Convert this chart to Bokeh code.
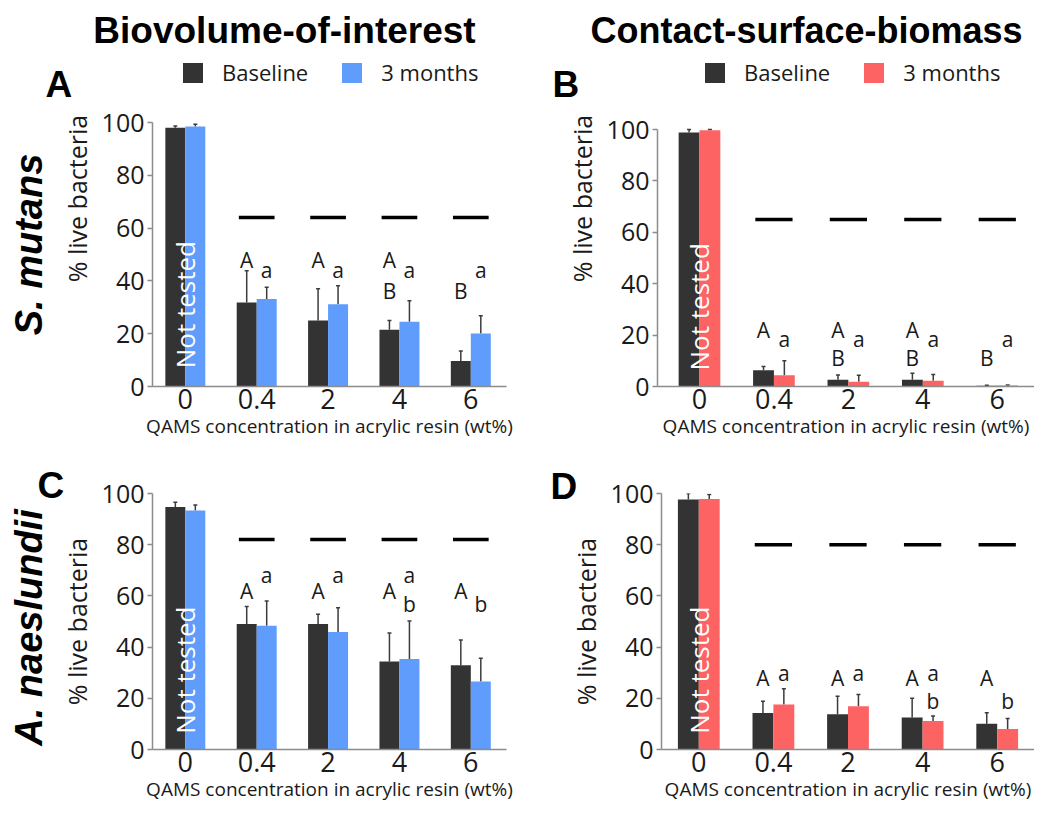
import numpy as np
from bokeh.plotting import figure
from bokeh.models import (Range1d, FixedTicker, Legend, LegendItem, Whisker,
                          ColumnDataSource, TeeHead)
from bokeh.layouts import column, row
from bokeh.embed import file_html
from bokeh.resources import INLINE
from bokeh.core.properties import value

# ---------------- data ----------------
categories = ["0", "0.4", "2", "4", "6"]
series_names = ["Baseline", "3 months"]

# A: S. mutans, biovolume-of-interest
sm_bio_base = [98.0, 31.8, 25.0, 21.5, 9.7]
sm_bio_base_err = [0.7, 12.0, 12.0, 3.5, 3.7]
sm_bio_3m = [98.5, 33.1, 31.2, 24.5, 20.1]
sm_bio_3m_err = [0.8, 4.5, 7.0, 8.0, 6.7]
sm_bio_sig = 64
sm_bio_letters = ["A", "a", "A", "a", "A", "B", "a", "B", "a"]
sm_bio_letter_cat = ["0.4", "0.4", "2", "2", "4", "4", "4", "6", "6"]
sm_bio_letter_series = [0, 1, 0, 1, 0, 0, 1, 0, 1]
sm_bio_letter_y = [48, 44, 48, 44, 48, 36, 44, 36, 44]

# B: S. mutans, contact-surface-biomass
sm_con_base = [98.8, 6.3, 2.6, 2.6, 0.3]
sm_con_base_err = [1.2, 1.5, 1.9, 2.6, 0.2]
sm_con_3m = [99.7, 4.4, 1.8, 2.2, 0.4]
sm_con_3m_err = [0.3, 5.6, 2.6, 2.5, 0.2]
sm_con_sig = 65
sm_con_letters = ["A", "a", "A", "B", "a", "A", "B", "a", "B", "a"]
sm_con_letter_cat = ["0.4", "0.4", "2", "2", "2", "4", "4", "4", "6", "6"]
sm_con_letter_series = [0, 1, 0, 0, 1, 0, 0, 1, 0, 1]
sm_con_letter_y = [22, 18.5, 22, 11, 18.5, 22, 11, 18.5, 11, 18.5]

# C: A. naeslundii, biovolume-of-interest
an_bio_base = [94.7, 49.0, 49.0, 34.4, 32.9]
an_bio_base_err = [1.9, 6.9, 3.8, 11.1, 9.9]
an_bio_3m = [93.4, 48.3, 45.9, 35.4, 26.6]
an_bio_3m_err = [2.1, 9.7, 9.5, 14.8, 9.0]
an_bio_sig = 82
an_bio_letters = ["A", "a", "A", "a", "A", "a", "b", "A", "b"]
an_bio_letter_cat = ["0.4", "0.4", "2", "2", "4", "4", "4", "6", "6"]
an_bio_letter_series = [0, 1, 0, 1, 0, 1, 1, 0, 1]
an_bio_letter_y = [62, 68, 62, 68, 62, 68, 57, 62, 57]

# D: A. naeslundii, contact-surface-biomass
an_con_base = [97.7, 14.3, 13.8, 12.5, 10.1]
an_con_base_err = [2.3, 4.5, 7.0, 7.5, 4.3]
an_con_3m = [97.9, 17.6, 16.9, 11.1, 8.0]
an_con_3m_err = [1.7, 6.1, 4.6, 2.0, 4.1]
an_con_sig = 80
an_con_letters = ["A", "a", "A", "a", "A", "a", "b", "A", "b"]
an_con_letter_cat = ["0.4", "0.4", "2", "2", "4", "4", "4", "6", "6"]
an_con_letter_series = [0, 1, 0, 1, 0, 1, 1, 0, 1]
an_con_letter_y = [28, 30, 28, 30, 28, 30, 19, 28, 19]

y_ticks = [0, 20, 40, 60, 80, 100]

# ---------------- style ----------------
BAR_W = 0.28
DARK = "#333333"
BLUE = "#5f9cfb"
RED = "#fd6363"
AXIS = "#8c8c8c"
TXT = "#1a1a1a"
FONT = "Open Sans"
HFONT = "Liberation Sans"

# panel geometry (pixels): width, height, borders, x start, pixel height of 0..100
GA = dict(w=540, h=452, left=152, right=34, top=10, bottom=66, xstart=-0.46, y100=264)
GB = dict(w=494, h=452, left=117, right=0, top=10, bottom=66, xstart=-0.564, y100=257)
GC = dict(w=540, h=363, left=152, right=34, top=41, bottom=66, xstart=-0.46, y100=256)
GD = dict(w=494, h=363, left=121, right=0, top=40, bottom=66, xstart=-0.5, y100=257)


def to_data(g, cx, cy):
    fw = g["w"] - g["left"] - g["right"]
    ppx = fw / (len(categories) - 0.5 - g["xstart"])
    ppy = g["y100"] / 100.0
    return g["xstart"] + (cx - g["left"]) / ppx, (g["h"] - g["bottom"] - cy) / ppy


def make_panel(g, base, base_err, later, later_err, color, sig_y, lt, lc, ls, ly):
    fh = g["h"] - g["top"] - g["bottom"]
    p = figure(width=g["w"], height=g["h"], output_backend="svg", toolbar_location=None,
               x_range=Range1d(g["xstart"], len(categories) - 0.5),
               y_range=Range1d(0, 100.0 * fh / g["y100"]),
               min_border_left=g["left"], min_border_right=g["right"],
               min_border_top=g["top"], min_border_bottom=g["bottom"])
    p.outline_line_color = None
    p.grid.visible = False

    x = np.arange(len(categories), dtype=float)
    b = np.array(base, dtype=float)
    l = np.array(later, dtype=float)
    src = ColumnDataSource(dict(
        xb=x - BAR_W / 2, xl=x + BAR_W / 2, base=b, later=l,
        btop=b + np.array(base_err), ltop=l + np.array(later_err)))

    rb = p.vbar(x="xb", top="base", width=BAR_W, source=src, fill_color=DARK, line_color=None)
    rl = p.vbar(x="xl", top="later", width=BAR_W, source=src, fill_color=color, line_color=None)

    for xs, lo, up in (("xb", "base", "btop"), ("xl", "later", "ltop")):
        p.add_layout(Whisker(base=xs, lower=lo, upper=up, source=src,
                             line_color="#3c3c3c", line_width=1.5,
                             upper_head=TeeHead(size=4, line_color="#3c3c3c", line_width=1.5),
                             lower_head=None))

    sx = x[1:]
    p.segment(x0=sx - 0.25, x1=sx + 0.25, y0=[sig_y] * len(sx), y1=[sig_y] * len(sx),
              line_color="black", line_width=3.5)

    p.text(x=[0], y=[31], text=["Not tested"], angle=np.pi / 2, text_align="center",
           text_baseline="middle", text_color="white", text_font=value(FONT),
           text_font_size="26px")

    lx = [categories.index(c) + (BAR_W / 2 if s else -BAR_W / 2) for c, s in zip(lc, ls)]
    p.text(x=lx, y=ly, text=lt, text_align="center", text_baseline="middle",
           text_color=TXT, text_font=value(FONT), text_font_size="21px")

    p.xaxis.ticker = FixedTicker(ticks=list(range(len(categories))))
    p.xaxis.major_label_overrides = {i: c for i, c in enumerate(categories)}
    p.xaxis.major_tick_out = 0
    p.xaxis.major_tick_in = 0
    p.xaxis.major_label_standoff = 2
    p.xaxis.major_label_text_font_size = "27px"
    p.xaxis.axis_label = "QAMS concentration in acrylic resin (wt%)"
    p.xaxis.axis_label_text_font_size = "19px"
    p.xaxis.axis_label_standoff = 1

    p.yaxis.ticker = FixedTicker(ticks=y_ticks)
    p.yaxis.bounds = (0, 100)
    p.yaxis.major_tick_out = 5
    p.yaxis.major_tick_in = 0
    p.yaxis.major_label_standoff = 3
    p.yaxis.major_label_text_font_size = "25px"
    p.yaxis.axis_label = "% live bacteria"
    p.yaxis.axis_label_text_font_size = "25px"
    p.yaxis.axis_label_standoff = 5

    for ax in (p.xaxis, p.yaxis):
        ax.axis_line_color = AXIS
        ax.axis_line_width = 1.5
        ax.minor_tick_line_color = None
        ax.major_tick_line_width = 1.5
        ax.major_label_text_font = FONT
        ax.major_label_text_color = TXT
        ax.axis_label_text_font = FONT
        ax.axis_label_text_font_style = "normal"
        ax.axis_label_text_color = TXT
    p.xaxis.major_tick_line_color = None
    p.yaxis.major_tick_line_color = AXIS
    return p, rb, rl


def add_text(p, g, text, cx, cy, size, style="bold", align="left", angle=0.0):
    dx, dy = to_data(g, cx, cy)
    p.text(x=[dx], y=[dy], text=[text], angle=angle, text_align=align,
           text_baseline="alphabetic", text_color="black", text_font=value(HFONT),
           text_font_size=size, text_font_style=style, level="overlay")


def add_legend(p, g, rb, rl, cx, cy):
    leg = Legend(items=[LegendItem(label=series_names[0], renderers=[rb]),
                        LegendItem(label=series_names[1], renderers=[rl])],
                 location=(cx - g["left"], g["h"] - g["bottom"] - cy - 30),
                 orientation="horizontal", padding=0, margin=0,
                 spacing=31, glyph_width=25, glyph_height=25, label_standoff=17,
                 label_text_font=FONT, label_text_font_size="22px", label_text_color=TXT,
                 border_line_color=None, background_fill_alpha=0)
    p.add_layout(leg)


pA, rbA, rlA = make_panel(GA, sm_bio_base, sm_bio_base_err, sm_bio_3m, sm_bio_3m_err, BLUE,
                          sm_bio_sig, sm_bio_letters, sm_bio_letter_cat,
                          sm_bio_letter_series, sm_bio_letter_y)
pB, rbB, rlB = make_panel(GB, sm_con_base, sm_con_base_err, sm_con_3m, sm_con_3m_err, RED,
                          sm_con_sig, sm_con_letters, sm_con_letter_cat,
                          sm_con_letter_series, sm_con_letter_y)
pC, rbC, rlC = make_panel(GC, an_bio_base, an_bio_base_err, an_bio_3m, an_bio_3m_err, BLUE,
                          an_bio_sig, an_bio_letters, an_bio_letter_cat,
                          an_bio_letter_series, an_bio_letter_y)
pD, rbD, rlD = make_panel(GD, an_con_base, an_con_base_err, an_con_3m, an_con_3m_err, RED,
                          an_con_sig, an_con_letters, an_con_letter_cat,
                          an_con_letter_series, an_con_letter_y)

add_text(pA, GA, "Biovolume-of-interest", 284, 30, "37px", align="center")
add_text(pB, GB, "Contact-surface-biomass", 266, 30, "36px", align="center")
add_text(pA, GA, "A", 45, 84, "37px")
add_text(pB, GB, "B", 12, 84, "37px")
add_text(pC, GC, "C", 37, 33, "37px")
add_text(pD, GD, "D", 10, 33, "37px")
add_text(pA, GA, "S. mutans", 28, 244, "38px", style="bold italic", align="center",
         angle=np.pi / 2)
add_text(pC, GC, "A. naeslundii", 28, 175, "38px", style="bold italic", align="center",
         angle=np.pi / 2)

add_legend(pA, GA, rbA, rlA, 180, 57)
add_legend(pB, GB, rbB, rlB, 162, 57)

layout = column(row(pA, pB), row(pC, pD))
open("out.html", "w").write(file_html(layout, INLINE))
